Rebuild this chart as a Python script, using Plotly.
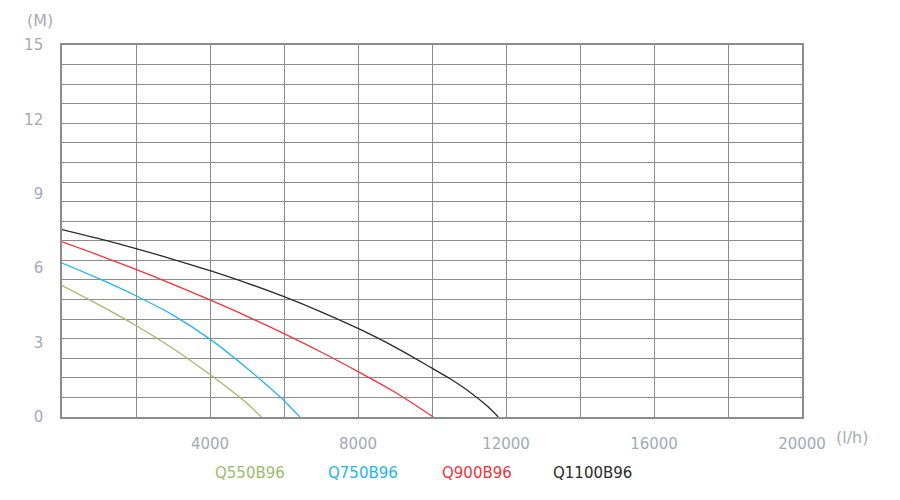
import plotly.graph_objects as go

# Flow (l/h) and head (M)
q550_flow = [0, 1000, 2000, 3000, 4000, 4500, 5000, 5380]
q550_head = [5.30, 4.52, 3.69, 2.76, 1.71, 1.15, 0.55, 0.0]

q750_flow = [0, 1000, 2000, 3000, 4000, 5000, 5500, 6000, 6200, 6430]
q750_head = [6.21, 5.58, 4.89, 4.11, 3.14, 1.97, 1.33, 0.66, 0.35, 0.0]

q900_flow = [0, 1000, 2000, 3000, 4000, 5000, 6000, 7000, 8000, 9000, 10035]
q900_head = [7.06, 6.52, 5.95, 5.35, 4.72, 4.06, 3.36, 2.62, 1.83, 1.00, 0.0]

q1100_flow = [0, 1000, 2000, 3000, 4000, 5000, 6000, 7000, 8000, 9000, 10000,
              10500, 11000, 11500, 11790]
q1100_head = [7.56, 7.19, 6.79, 6.36, 5.90, 5.40, 4.85, 4.24, 3.57, 2.82, 1.97,
              1.53, 1.03, 0.43, 0.0]

series_names = ["Q550B96", "Q750B96", "Q900B96", "Q1100B96"]
series_colors = ["#9dbb6a", "#22b5f0", "#f0333b", "#2a2a2a"]
flows = [q550_flow, q750_flow, q900_flow, q1100_flow]
heads = [q550_head, q750_head, q900_head, q1100_head]

x_ticks = [4000, 8000, 12000, 16000, 20000]
y_ticks = [0, 3, 6, 9, 12, 15]

grid_color = "#8c8c8c"
label_color = "#a2a9b8"
font_family = "DejaVu Sans, sans-serif"

fig = go.Figure()
for name, color, fx, hy in zip(series_names, series_colors, flows, heads):
    fig.add_trace(go.Scatter(
        x=fx, y=hy, mode="lines", name=name,
        line=dict(color=color, width=1.3, shape="spline", smoothing=1.0),
        showlegend=False,
    ))

fig.update_xaxes(
    range=[0, 20000],
    tickvals=x_ticks,
    ticktext=[str(v) for v in x_ticks],
    showgrid=True, gridcolor=grid_color, gridwidth=1.4,
    minor=dict(dtick=2000, tick0=0, showgrid=True, gridcolor=grid_color, gridwidth=1.4),
    showline=True, linecolor=grid_color, linewidth=1.6, mirror=True,
    zeroline=False, ticks="", ticklabelstandoff=12,
    tickfont=dict(family=font_family, size=15, color=label_color),
)
fig.update_yaxes(
    range=[0, 15],
    tickvals=y_ticks,
    showgrid=False,
    minor=dict(dtick=15 / 19, tick0=0, showgrid=True, gridcolor=grid_color, gridwidth=1.4),
    showline=True, linecolor=grid_color, linewidth=1.6, mirror=True,
    zeroline=False, ticks="", ticklabelstandoff=14,
    tickfont=dict(family=font_family, size=15, color=label_color),
)

W, H = 900, 500
ml, mr, mt, mb = 62, 98, 45, 83
pw, ph = W - ml - mr, H - mt - mb


def px_to_paper(x, y):
    return (x - ml) / pw, 1 - (y - mt) / ph


ann = []
for text, px, py in [("(M)", 40, 20), ("(l/h)", 852, 437)]:
    ax, ay = px_to_paper(px, py)
    ann.append(dict(text=text, x=ax, y=ay, xref="paper", yref="paper", showarrow=False,
                    xanchor="center", yanchor="middle",
                    font=dict(family=font_family, size=16, color="#a8abb2")))
legend_x = [250, 363, 477, 592]
for name, color, lx in zip(series_names, series_colors, legend_x):
    ax, ay = px_to_paper(lx, 473)
    ann.append(dict(text=name, x=ax, y=ay, xref="paper", yref="paper", showarrow=False,
                    xanchor="center", yanchor="middle",
                    font=dict(family=font_family, size=15, color=color)))

fig.update_layout(
    width=W, height=H,
    margin=dict(l=ml, r=mr, t=mt, b=mb),
    paper_bgcolor="white", plot_bgcolor="white",
    annotations=ann,
)

fig.write_html("out.html", config={"displayModeBar": False},
               post_script="document.body.style.margin='0';")
